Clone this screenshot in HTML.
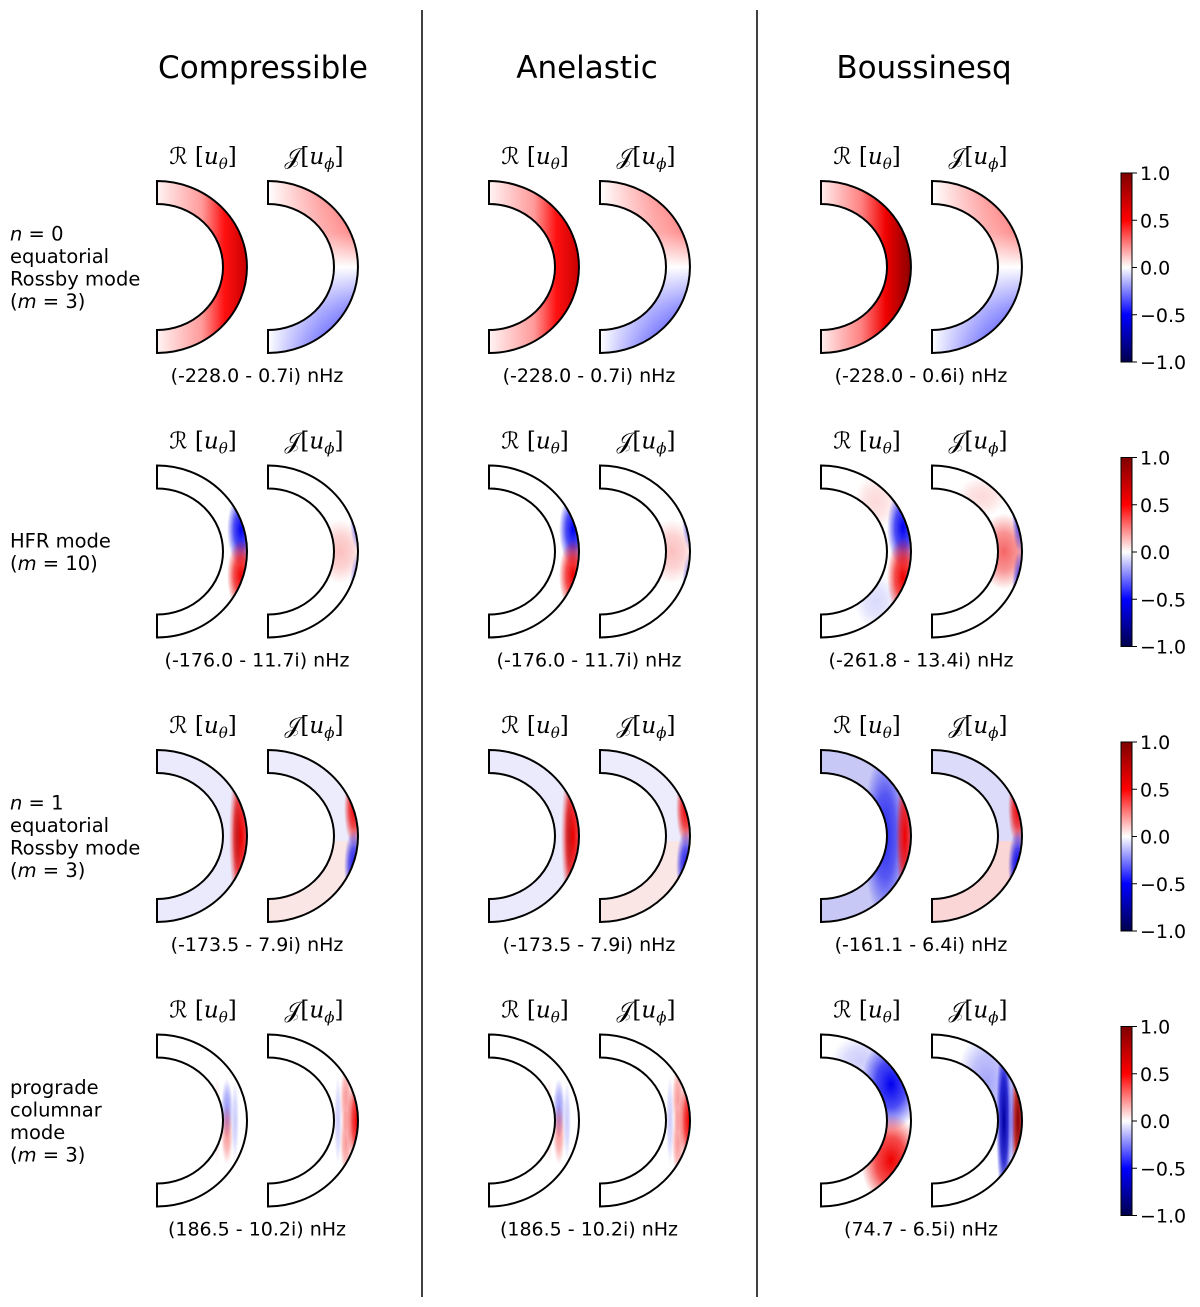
<!DOCTYPE html>
<html><head><meta charset="utf-8">
<style>
html,body{margin:0;padding:0;background:#fff;}
svg{display:block;font-family:"DejaVu Sans","Liberation Sans",sans-serif;}
</style></head>
<body>
<svg id="fig" width="1200" height="1307" viewBox="0 0 1200 1307" xmlns="http://www.w3.org/2000/svg">
<defs>
<linearGradient id="cbar" x1="0" y1="0" x2="0" y2="1">
<stop offset="0" stop-color="#7f0000"/><stop offset="0.25" stop-color="#ff0000"/><stop offset="0.5" stop-color="#ffffff"/><stop offset="0.75" stop-color="#0000ff"/><stop offset="1" stop-color="#00004c"/>
</linearGradient>
<linearGradient id="hR" x1="0" y1="0" x2="1" y2="0">
<stop offset="0" stop-color="#fff4f4"/><stop offset="0.5" stop-color="#ff9a9a"/><stop offset="0.75" stop-color="#ff1010"/><stop offset="1" stop-color="#c80000"/>
</linearGradient>
<linearGradient id="hRd" x1="0" y1="0" x2="1" y2="0">
<stop offset="0" stop-color="#ffeeee"/><stop offset="0.45" stop-color="#ff8080"/><stop offset="0.72" stop-color="#f00000"/><stop offset="1" stop-color="#8a0000"/>
</linearGradient>
<linearGradient id="vRB" x1="0" y1="0" x2="0" y2="1">
<stop offset="0" stop-color="#ff6060"/><stop offset="0.3" stop-color="#ff8888"/><stop offset="0.5" stop-color="#ffffff"/><stop offset="0.75" stop-color="#8080ff"/><stop offset="1" stop-color="#1818ff"/>
</linearGradient>
<linearGradient id="hW" x1="0" y1="0" x2="1" y2="0">
<stop offset="0" stop-color="#fff" stop-opacity="1"/><stop offset="0.6" stop-color="#fff" stop-opacity="0.35"/><stop offset="1" stop-color="#fff" stop-opacity="0"/>
</linearGradient>
<radialGradient id="g-red"><stop offset="0" stop-color="#f00000" stop-opacity="1"/><stop offset="0.5" stop-color="#f00000" stop-opacity="0.7"/><stop offset="1" stop-color="#f00000" stop-opacity="0"/></radialGradient>
<radialGradient id="g-dred"><stop offset="0" stop-color="#8a0000" stop-opacity="1"/><stop offset="0.5" stop-color="#b00000" stop-opacity="0.8"/><stop offset="1" stop-color="#d00000" stop-opacity="0"/></radialGradient>
<radialGradient id="g-blue"><stop offset="0" stop-color="#0000f0" stop-opacity="1"/><stop offset="0.5" stop-color="#0000f0" stop-opacity="0.7"/><stop offset="1" stop-color="#0000f0" stop-opacity="0"/></radialGradient>
<radialGradient id="g-dblue"><stop offset="0" stop-color="#0000a0" stop-opacity="1"/><stop offset="0.5" stop-color="#0000c8" stop-opacity="0.8"/><stop offset="1" stop-color="#0000f0" stop-opacity="0"/></radialGradient>
</defs>
<g id="layer"></g>
</svg>
<script>
const columnTitles = ["Compressible", "Anelastic", "Boussinesq"];
const rowLabels = [
  [["n"," = 0"], ["","equatorial"], ["","Rossby mode"], ["(m"," = 3)"]],
  [["","HFR mode"], ["(m"," = 10)"]],
  [["n"," = 1"], ["","equatorial"], ["","Rossby mode"], ["(m"," = 3)"]],
  [["","prograde"], ["","columnar"], ["","mode"], ["(m"," = 3)"]]
];
const freqReal = [
  [-228.0, -228.0, -228.0],
  [-176.0, -176.0, -261.8],
  [-173.5, -173.5, -161.1],
  [186.5, 186.5, 74.7]
];
const freqImag = [
  [0.7, 0.7, 0.6],
  [11.7, 11.7, 13.4],
  [7.9, 7.9, 6.4],
  [10.2, 10.2, 6.5]
];
const cbarTicks = [1.0, 0.5, 0.0, -0.5, -1.0];
const cbarTickLabels = ["1.0", "0.5", "0.0", "\u22120.5", "\u22121.0"];

const F = {
 r0R: {base:"url(#hR)", blobs:[]},
 r0Rb:{base:"url(#hRd)", blobs:[]},
 r0J: {base:"url(#vRB)", white:true, blobs:[]},
 r1R: {base:"#fff", blobs:[[84,-22,14,36,"g-blue",1],[84,24,14,36,"g-red",1]]},
 r1J: {base:"#fff", blobs:[[72,0,24,32,"g-red",0.25],[89,-36,7,34,"g-blue",0.6],[89,36,7,34,"g-blue",0.5]]},
 r1Rb:{base:"#fff", blobs:[[82,-24,16,40,"g-blue",1],[82,26,16,40,"g-red",1],[55,-50,22,28,"g-red",0.15],[55,50,22,28,"g-blue",0.15]]},
 r1J_b:{base:"#fff", blobs:[[72,0,26,38,"g-red",0.6],[88,-38,8,40,"g-blue",0.8],[88,38,8,40,"g-blue",0.8],[50,-55,25,20,"g-red",0.15]]},
 r2R: {base:"#eaeafc", blobs:[[84,0,12,80,"g-red",1],[80,0,5,50,"g-dred",0.4]]},
 r2J: {base:"#ececfc", lowerRed:true, blobs:[[86,-28,10,38,"g-red",1],[86,30,10,36,"g-blue",0.9]]},
 r2Rb:{base:"#c8c8f6", blobs:[[64,0,22,85,"g-blue",0.8],[84,0,9,70,"g-red",1]]},
 r2Jb:{base:"#dcdcfa", lowerRed:true, strong:true, blobs:[[86,-28,10,38,"g-red",1],[86,30,10,36,"g-blue",1]]},
 r3R: {base:"#fff", blobs:[[70,-12,6,30,"g-blue",0.4],[70,14,6,30,"g-red",0.4],[60,0,4,45,"g-red",0.15],[78,0,4,40,"g-blue",0.2]]},
 r3J: {base:"#fff", blobs:[[89,0,10,45,"g-red",1],[78,-22,6,35,"g-red",0.4],[78,22,6,35,"g-red",0.4],[70,0,4,45,"g-blue",0.2]]},
 r3Rb:{base:"#fff", blobs:[[70,-36,30,46,"g-blue",1],[70,40,30,46,"g-red",1],[40,-60,30,25,"g-blue",0.2]]},
 r3Jb:{base:"#fff", blobs:[[55,-40,30,50,"g-blue",0.35],[72,0,8,85,"g-dblue",1],[86,0,7,70,"g-dred",1],[80,0,3,60,"g-blue",0.4]]}
};
const fieldMap = [
  [["r0R","r0J"],["r0R","r0J"],["r0Rb","r0J"]],
  [["r1R","r1J"],["r1R","r1J"],["r1Rb","r1J_b"]],
  [["r2R","r2J"],["r2R","r2J"],["r2Rb","r2Jb"]],
  [["r3R","r3J"],["r3R","r3J"],["r3Rb","r3Jb"]]
];

const NS = "http://www.w3.org/2000/svg";
const layer = document.getElementById("layer");
function mk(tag, attrs, parent){ const e=document.createElementNS(NS,tag); for(const k in attrs) e.setAttribute(k,attrs[k]); (parent||layer).appendChild(e); return e; }

const colX = [157, 489, 821];
const titleX = [263, 587, 924];
const pairGap = 111;
const rowY0 = 267, rowStep = 284.5;
const RO_X=90, RO_Y=86, RI_X=66, RI_Y=63;
function shellPath(cx,cy){
  return `M${cx},${cy-RO_Y} A${RO_X},${RO_Y} 0 0 1 ${cx},${cy+RO_Y} L${cx},${cy+RI_Y} A${RI_X},${RI_Y} 0 0 0 ${cx},${cy-RI_Y} Z`;
}

columnTitles.forEach((t,c)=>{
  const el = mk("text",{x:titleX[c],y:78,"font-size":31,"text-anchor":"middle",fill:"#000"});
  el.textContent = t;
  
  
});
[422,757].forEach((x,i)=>{
  const l = mk("line",{x1:x,y1:10,x2:x,y2:1297,stroke:"#000","stroke-width":1.5});
  
  
});

let clipId = 0;
for(let r=0;r<4;r++){
  const cy = rowY0 + r*rowStep;
  const lines = rowLabels[r];
  const y0 = cy - (lines.length-1)*22.5/2 + 7;
  lines.forEach((ln,i)=>{
    const lab = mk("text",{x:10,y:y0+i*22.5,"font-size":19.5,fill:"#000"});
    
    
    if(ln[0]){
      const pre = ln[0].startsWith("(") ? "(" : "";
      const v = ln[0].replace("(","");
      if(pre){ const p=mk("tspan",{},lab); p.textContent=pre; }
      const it = mk("tspan",{"font-style":"italic"},lab); it.textContent=v;
      const rest = mk("tspan",{},lab); rest.textContent=ln[1];
    } else lab.textContent = ln[1];
  });
  for(let c=0;c<3;c++){
    for(let k=0;k<2;k++){
      const cx = colX[c] + k*pairGap;
      const f = F[fieldMap[r][c][k]];
      const g = mk("g",{});
      
      
      const id = "clip"+(clipId++);
      const cp = mk("clipPath",{id:id},g);
      mk("path",{d:shellPath(cx,cy)},cp);
      const inner = mk("g",{"clip-path":`url(#${id})`},g);
      mk("rect",{x:cx,y:cy-RO_Y,width:RO_X,height:2*RO_Y,fill:f.base},inner);
      if(f.lowerRed){
        mk("rect",{x:cx,y:cy+5,width:RO_X,height:RO_Y,fill:f.strong?"#fbd6d6":"#fbe6e6"},inner);
      }
      if(f.white){
        mk("rect",{x:cx,y:cy-RO_Y,width:RO_X,height:2*RO_Y,fill:"url(#hW)"},inner);
      }
      f.blobs.forEach(b=>{
        mk("ellipse",{cx:cx+b[0],cy:cy+b[1],rx:b[2],ry:b[3],fill:`url(#${b[4]})`,opacity:b[5]},inner);
      });
      mk("path",{d:shellPath(cx,cy),fill:"none",stroke:"#000","stroke-width":2},g);
      const pl = mk("text",{x:cx+46,y:cy-103,"font-size":23,"text-anchor":"middle","font-family":"DejaVu Serif, Liberation Serif, serif",fill:"#000"});
      
      
      const a = mk("tspan",{},pl); a.textContent = k===0?"\u211B [":"\uD835\uDCA5[";
      const u = mk("tspan",{"font-style":"italic"},pl); u.textContent="u";
      const s = mk("tspan",{"font-size":15,dy:5,"font-style":"italic"},pl); s.textContent = k===0?"\u03B8":"\u03D5";
      const e = mk("tspan",{dy:-5},pl); e.textContent="]";
    }
    const fr = freqReal[r][c], fi = freqImag[r][c];
    const ft = mk("text",{x:colX[c]+100,y:cy+115,"font-size":19,"text-anchor":"middle",fill:"#000"});
    ft.textContent = `(${fr.toFixed(1)} - ${fi.toFixed(1)}i) nHz`;
    
    
  }
  const top = cy - 94, h = 189;
  const cb = mk("g",{});
  
  
  mk("rect",{x:1121,y:top,width:11,height:h,fill:"url(#cbar)",stroke:"#000","stroke-width":1},cb);
  cbarTicks.forEach((t,i)=>{
    const ty = top + (1 - (t+1)/2)*h;
    mk("line",{x1:1132,y1:ty,x2:1137,y2:ty,stroke:"#000","stroke-width":1},cb);
    const tl = mk("text",{x:1140,y:ty+7,"font-size":19,fill:"#000"},cb);
    tl.textContent = cbarTickLabels[i];
    
    
  });
}
</script>
</body></html>
